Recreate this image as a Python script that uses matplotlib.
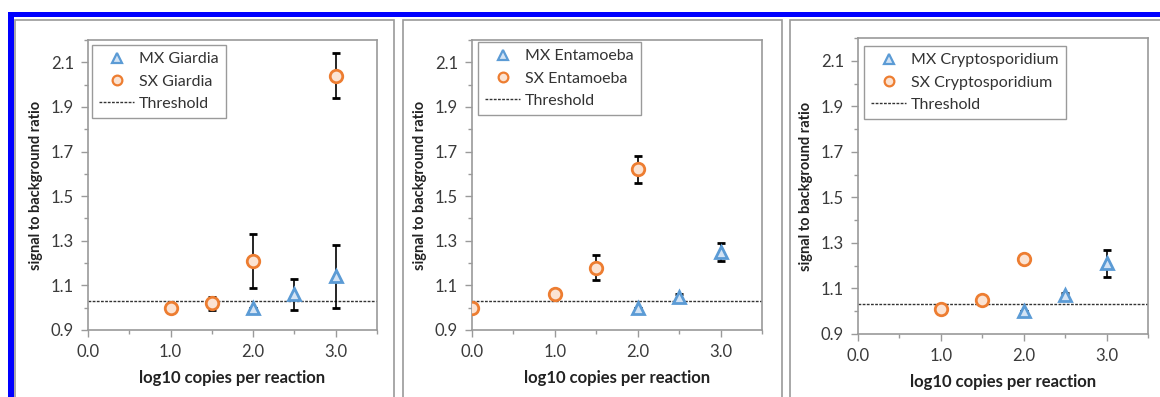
import matplotlib
matplotlib.use("Agg")
import matplotlib.pyplot as plt
from matplotlib.ticker import MultipleLocator, FixedLocator
from matplotlib.patches import Rectangle
from matplotlib.lines import Line2D

plt.rcParams['font.family'] = ['Lato', 'DejaVu Sans']

threshold = 1.03

organisms = ["Giardia", "Entamoeba", "Cryptosporidium"]

mx_x = [[2.0, 2.5, 3.0], [2.0, 2.5, 3.0], [2.0, 2.5, 3.0]]
mx_y = [[1.00, 1.06, 1.14], [1.00, 1.05, 1.25], [1.00, 1.07, 1.21]]
mx_err = [[0.0, 0.07, 0.14], [0.0, 0.01, 0.04], [0.0, 0.01, 0.06]]

sx_x = [[1.0, 1.5, 2.0, 3.0], [0.0, 1.0, 1.5, 2.0], [1.0, 1.5, 2.0]]
sx_y = [[1.00, 1.02, 1.21, 2.04], [1.00, 1.06, 1.18, 1.62], [1.01, 1.05, 1.23]]
sx_err = [[0.0, 0.03, 0.12, 0.10], [0.0, 0.01, 0.055, 0.06], [0.0, 0.01, 0.01]]

y_ticks = [0.9, 1.1, 1.3, 1.5, 1.7, 1.9, 2.1]
x_ticks = [0.0, 1.0, 2.0, 3.0]

W, H = 1160, 397
fig = plt.figure(figsize=(W / 100, H / 100), dpi=100)

def fx(p):
    return p / W

def fy(p):
    return 1 - p / H

# panel boxes (gray)
gray = "#9a9a9a"
for (l, r) in [(15, 394), (403, 782), (790, 1165)]:
    fig.add_artist(Rectangle((fx(l), fy(420)), fx(r - l), fy(20) - fy(420),
                             transform=fig.transFigure, fill=False,
                             edgecolor=gray, linewidth=1.2))

# blue border
fig.add_artist(Rectangle((fx(8), fy(17)), 1 - fx(8), fy(12) - fy(17),
                         transform=fig.transFigure, color="#0000ff", lw=0))
fig.add_artist(Rectangle((fx(8), 0), fx(6), fy(12),
                         transform=fig.transFigure, color="#0000ff", lw=0))

axes_px = [(88, 377, 40, 330), (472, 762, 40, 330), (858, 1148, 38, 334)]
legend_px = [(92, 45), (478, 42), (864, 46)]

blue = "#5B9BD5"
orange = "#ED7D31"
tri_fill = "#d3e3f4"
circ_fill = "#fbe3d3"

for i, name in enumerate(organisms):
    l, r, t, b = axes_px[i]
    ax = fig.add_axes([fx(l), fy(b), fx(r - l), fy(t) - fy(b)])
    ax.set_xlim(0, 3.5)
    ax.set_ylim(0.9, 2.2)
    ax.axhline(threshold, color="#333333", linestyle=(0, (2, 1)), lw=1.0,
               zorder=1)
    ax.errorbar(mx_x[i], mx_y[i], yerr=mx_err[i], fmt="^", ms=9,
                mfc=tri_fill, mec=blue, mew=2.0, ecolor="black",
                elinewidth=1.2, capsize=3, capthick=1.2, zorder=3)
    ax.errorbar(sx_x[i], sx_y[i], yerr=sx_err[i], fmt="o", ms=9,
                mfc=circ_fill, mec=orange, mew=2.0, ecolor="black",
                elinewidth=1.2, capsize=3, capthick=1.2, zorder=3)
    ax.yaxis.set_major_locator(FixedLocator(y_ticks))
    ax.yaxis.set_minor_locator(MultipleLocator(0.1))
    ax.xaxis.set_major_locator(FixedLocator(x_ticks))
    ax.xaxis.set_minor_locator(MultipleLocator(0.5))
    ax.set_yticklabels([f"{v:.1f}" for v in y_ticks])
    ax.set_xticklabels([f"{v:.1f}" for v in x_ticks])
    ax.tick_params(axis="both", which="both", colors=gray, labelcolor="#3a3a3a",
                   labelsize=12, direction="out")
    ax.tick_params(axis="both", which="major", length=5, width=1, pad=5)
    ax.tick_params(axis="both", which="minor", length=3, width=1)
    for s in ax.spines.values():
        s.set_color(gray)
        s.set_linewidth(1.2)
    ax.set_ylabel("signal to background ratio", fontsize=10.5,
                  fontweight="bold", color="#222222", labelpad=6)
    ax.set_xlabel("log10 copies per reaction", fontsize=12,
                  fontweight="bold", color="#222222", labelpad=7)

    handles = [
        Line2D([], [], ls="none", marker="^", ms=7, mfc=tri_fill, mec=blue, mew=1.6),
        Line2D([], [], ls="none", marker="o", ms=7, mfc=circ_fill, mec=orange, mew=1.6),
        Line2D([], [], color="#333333", ls=(0, (2, 1)), lw=1.0),
    ]
    labels = [f"MX {name}", f"SX {name}", "Threshold"]
    lx, ly = legend_px[i]
    leg = ax.legend(handles, labels, loc="upper left",
                    bbox_to_anchor=((lx - l) / (r - l), 1 - (ly - t) / (b - t)),
                    fontsize=11.5, frameon=True, fancybox=False,
                    edgecolor=gray, framealpha=1, borderaxespad=0,
                    handlelength=2.2, handletextpad=0.3, labelspacing=0.5,
                    borderpad=0.45)
    leg.get_frame().set_linewidth(1.0)
    for txt in leg.get_texts():
        txt.set_color("#333333")

fig.savefig("out.png", dpi=100)
